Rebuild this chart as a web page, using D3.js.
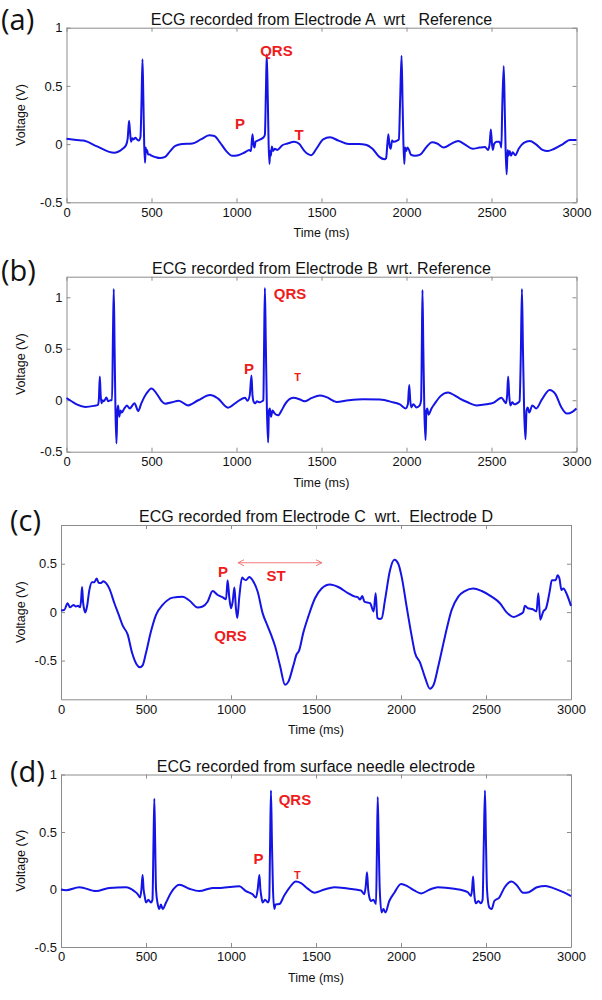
<!DOCTYPE html>
<html><head><meta charset="utf-8">
<script src="https://cdn.jsdelivr.net/npm/d3@7"></script>
<style>body{margin:0;background:#fff}svg{display:block}</style>
</head><body><svg id="chart" width="602" height="1000"></svg>
<script>
// ---- data (time in ms, voltage in V) ----
const timeA=[0,60,100,180,280,330,350,360,368,374,380,388,395,405,415,425,435,441,447,452,457,462,466,470,474,480,490,500,520,550,580,610,640,680,740,790,840,870,900,940,975,1010,1050,1075,1085,1094,1100,1106,1112,1125,1140,1160,1167,1173,1178,1184,1189,1194,1198,1202,1208,1215,1225,1240,1270,1300,1340,1370,1400,1440,1470,1510,1550,1600,1660,1720,1760,1800,1840,1870,1880,1893,1900,1907,1915,1925,1945,1955,1963,1971,1977,1982,1987,1992,1998,2005,2015,2025,2050,2080,2120,2150,2180,2220,2260,2305,2340,2390,2430,2462,2480,2489,2496,2503,2508,2515,2530,2545,2553,2558,2563,2572,2578,2583,2589,2595,2600,2607,2615,2625,2640,2660,2690,2725,2760,2800,2830,2870,2920,2960,3000];
const voltA=[0.045,0.035,0.03,-0.02,-0.075,-0.04,-0.01,0.05,0.2,0.1,0.02,0.05,0.04,0.055,0.04,0.03,0.06,0.35,0.73,0.4,0.0,-0.16,-0.03,-0.07,-0.05,-0.09,-0.09,-0.1,-0.11,-0.12,-0.11,-0.06,-0.015,0.0,0.005,0.04,0.075,0.07,0.02,-0.06,-0.1,-0.095,-0.07,-0.05,-0.06,0.085,0.0,-0.03,0.02,0.03,0.04,0.06,0.08,0.45,0.77,0.4,0.0,-0.17,-0.06,-0.1,-0.02,-0.06,-0.04,-0.05,-0.01,0.005,0.02,0.0,-0.06,-0.095,-0.04,0.04,0.058,0.03,0.0,0.0,-0.005,-0.04,-0.11,-0.13,-0.12,0.085,-0.01,-0.04,0.03,0.02,0.03,0.04,0.4,0.76,0.35,0.0,-0.17,-0.03,-0.06,-0.03,-0.05,-0.09,-0.1,-0.09,-0.02,0.015,0.005,-0.03,0.0,0.027,0.0,-0.04,-0.03,-0.025,-0.05,0.0,0.125,0.0,-0.05,0.0,0.02,0.02,0.0,-0.03,0.3,0.67,0.3,-0.05,-0.26,-0.05,-0.1,-0.06,-0.1,-0.07,-0.095,-0.04,0.01,0.026,0.0,-0.05,-0.06,-0.04,0.0,0.035,0.035];

const timeB=[0,30,60,110,160,185,190,196,201,206,212,220,235,245,260,268,273,278,283,288,294,299,304,310,318,325,340,355,372,400,422,440,470,500,530,560,580,620,660,715,775,845,890,950,1000,1050,1065,1078,1088,1094,1100,1110,1120,1135,1150,1158,1162,1167,1172,1179,1186,1191,1196,1203,1212,1225,1245,1265,1285,1333,1370,1400,1440,1490,1530,1588,1660,1745,1843,1920,1961,1995,2008,2016,2022,2028,2040,2059,2078,2086,2090,2094,2099,2105,2112,2117,2122,2130,2147,2166,2200,2245,2280,2314,2360,2412,2470,2510,2559,2575,2585,2592,2598,2604,2611,2622,2635,2650,2665,2672,2679,2685,2692,2700,2706,2713,2722,2740,2763,2796,2842,2876,2910,2944,2978,3000];
const voltB=[0.02,-0.01,-0.04,-0.065,-0.055,-0.045,0.0,0.23,0.05,-0.03,0.0,-0.01,0.026,-0.01,0.0,0.0,0.6,1.08,0.5,-0.1,-0.42,-0.1,-0.05,-0.16,-0.1,-0.12,-0.08,-0.05,-0.08,-0.03,-0.105,-0.03,0.065,0.115,0.065,-0.01,-0.033,-0.02,-0.005,-0.05,0.0,0.05,0.018,-0.072,-0.02,0.025,-0.005,0.05,0.24,0.05,-0.01,-0.03,-0.01,-0.02,-0.01,0.0,0.5,1.09,0.6,-0.1,-0.41,-0.1,-0.08,-0.16,-0.1,-0.13,-0.147,-0.1,-0.04,0.023,0.01,-0.01,0.02,0.046,0.03,-0.016,0.0,0.01,0.007,-0.02,-0.04,-0.08,-0.04,0.147,0.0,-0.07,-0.04,-0.07,-0.05,0.0,0.5,1.07,0.5,-0.1,-0.386,-0.1,-0.08,-0.14,-0.08,-0.033,0.04,0.075,0.05,0.016,-0.02,-0.05,-0.04,-0.026,0.025,-0.01,-0.03,0.05,0.23,0.05,-0.05,-0.02,-0.04,-0.03,-0.01,0.4,1.08,0.5,-0.1,-0.38,-0.1,-0.07,-0.12,-0.05,-0.08,0.006,0.1,0.06,-0.065,-0.13,-0.11,-0.08];

const timeC=[0,20,39,53,73,88,100,112,118,124,130,135,143,153,167,182,196,210,222,235,249,265,284,314,343,363,392,418,445,465,480,500,529,559,598,657,716,755,804,833,863,892,922,951,971,980,990,1000,1010,1020,1029,1037,1049,1065,1078,1088,1108,1127,1157,1186,1216,1235,1259,1288,1318,1337,1367,1386,1400,1425,1455,1494,1533,1582,1631,1690,1729,1745,1759,1773,1784,1818,1839,1851,1861,1876,1886,1906,1935,1961,1984,2004,2033,2063,2082,2112,2141,2170,2190,2220,2259,2298,2337,2376,2425,2475,2533,2582,2620,2662,2695,2718,2729,2747,2775,2797,2808,2819,2837,2853,2876,2887,2910,2921,2932,2944,2955,2977,3000];
const voltC=[0.017,0.024,0.092,0.05,0.075,0.058,0.065,0.05,0.12,0.26,0.1,0.04,-0.003,0.058,0.23,0.31,0.31,0.347,0.3,0.3,0.32,0.3,0.245,0.092,-0.044,-0.14,-0.23,-0.42,-0.54,-0.57,-0.55,-0.42,-0.2,-0.027,0.075,0.15,0.16,0.12,0.048,0.058,0.11,0.218,0.177,0.153,0.133,0.33,0.15,0.04,0.11,0.255,0.04,-0.06,0.16,0.357,0.337,0.33,0.364,0.33,0.21,-0.01,-0.146,-0.23,-0.35,-0.55,-0.75,-0.72,-0.55,-0.435,-0.4,-0.214,-0.044,0.143,0.245,0.286,0.26,0.194,0.16,0.155,0.13,0.167,0.109,0.092,0.007,0.194,-0.06,-0.07,-0.065,0.126,0.43,0.54,0.5,0.364,0.058,-0.248,-0.418,-0.52,-0.673,-0.79,-0.758,-0.554,-0.248,0.024,0.16,0.218,0.245,0.218,0.16,0.092,0.0,-0.05,-0.027,-0.003,0.065,0.04,0.03,0.007,0.194,-0.078,0.007,0.04,0.228,0.33,0.33,0.38,0.347,0.228,0.245,0.177,0.065];

const timeD=[0,29,108,206,284,382,431,451,465,473,480,486,492,500,514,529,538,544,549,554,559,569,578,588,598,618,647,696,755,814,892,941,1049,1088,1127,1147,1157,1167,1173,1178,1186,1200,1218,1225,1230,1235,1241,1247,1255,1262,1284,1314,1343,1382,1412,1451,1490,1549,1608,1686,1765,1784,1792,1800,1807,1814,1824,1838,1853,1858,1863,1869,1875,1886,1897,1908,1931,1961,2000,2039,2080,2118,2170,2216,2314,2392,2412,2418,2424,2429,2433,2441,2455,2470,2480,2487,2494,2500,2506,2519,2533,2549,2578,2610,2650,2680,2718,2752,2800,2850,2900,2955,3000];
const voltD=[0.0,-0.006,0.02,-0.014,0.014,0.02,-0.014,-0.04,-0.07,0.0,0.127,0.0,-0.056,-0.113,-0.09,-0.113,-0.09,0.4,0.79,0.4,0.0,-0.127,-0.17,-0.13,-0.17,-0.113,-0.028,0.042,0.006,-0.014,0.014,0.014,0.028,-0.014,-0.042,-0.07,0.0,0.127,0.0,-0.056,-0.113,-0.09,-0.113,-0.08,0.4,0.86,0.4,0.0,-0.17,-0.13,-0.127,-0.05,0.014,0.07,0.056,0.008,-0.028,0.0,0.02,0.008,-0.008,-0.042,0.02,0.15,0.0,-0.07,-0.1,-0.09,-0.127,0.3,0.805,0.4,0.0,-0.2,-0.17,-0.2,-0.1,-0.028,0.048,0.028,-0.01,-0.034,0.0,0.02,0.006,-0.022,-0.056,0.0,0.113,0.0,-0.07,-0.12,-0.1,-0.12,-0.09,0.4,0.86,0.4,0.0,-0.155,-0.17,-0.1,-0.07,0.02,0.07,0.04,-0.028,-0.023,0.02,0.03,0.01,-0.023,-0.057];

// ---- ticks, domains, labels ----
const xTicks=[0,500,1000,1500,2000,2500,3000];
const yTicksA=[-0.5,0,0.5,1];
const yTicksB=[-0.5,0,0.5,1];
const yTicksC=[-0.5,0,0.5];
const yTicksD=[-0.5,0,0.5,1];
const yDomainA=[-0.5,1];
const yDomainB=[-0.5,1.2];
const yDomainC=[-0.9,0.9];
const yDomainD=[-0.5,1];
const panelLetters=["(a)","(b)","(c)","(d)"];
const titles=["ECG recorded from Electrode A  wrt   Reference",
  "ECG recorded from Electrode B  wrt. Reference",
  "ECG recorded from Electrode C  wrt.  Electrode D",
  "ECG recorded from surface needle electrode"];
const xLabel="Time (ms)";
const yLabel="Voltage (V)";
// annotation texts and their data anchors
const annotA=[["QRS",1235,0.80,15],["P",1020,0.173,15],["T",1368,0.08,15]];
const annotB=[["QRS",1315,1.04,15],["P",1074,0.31,15],["T",1359,0.226,11]];
const annotC=[["P",953,0.415,15],["ST",1265,0.38,15],["QRS",997,-0.24,15]];
const annotD=[["QRS",1376,0.78,15],["P",1162,0.266,15],["T",1391,0.13,11]];
const arrowC=[1041,1535,0.51]; // ST interval arrow: start, end, level

// ---- layout ----
const panels=[
 {t:timeA,v:voltA,yt:yTicksA,yd:yDomainA,an:annotA,L:66.5,R:576.5,T:27.7,B:202.3},
 {t:timeB,v:voltB,yt:yTicksB,yd:yDomainB,an:annotB,L:66.5,R:576.5,T:276.7,B:451.7},
 {t:timeC,v:voltC,yt:yTicksC,yd:yDomainC,an:annotC,L:61,R:571,T:525,B:699.3},
 {t:timeD,v:voltD,yt:yTicksD,yd:yDomainD,an:annotD,L:61,R:571,T:774.5,B:947}
];
const letterY=[20,271,521,772];
const letterX=[1,1,10,10];
const FONT='"Liberation Sans", Arial, Helvetica, sans-serif';
const BOX='#8c8c8c';
const svg=d3.select("#chart");

panels.forEach((p,i)=>{
  const x=d3.scaleLinear().domain([0,3000]).range([p.L,p.R]);
  const y=d3.scaleLinear().domain(p.yd).range([p.B,p.T]);
  const g=svg.append("g");
  const styleAxis=sel=>{
    sel.selectAll(".domain").attr("stroke",BOX).attr("stroke-width",1);
    sel.selectAll(".tick line").attr("stroke",BOX);
    sel.selectAll("text").attr("fill","#111").style("font-family",FONT).style("font-size","13px");
  };
  g.append("g").attr("transform",`translate(0,${p.B})`)
    .call(d3.axisBottom(x).tickValues(xTicks).tickSizeInner(-4).tickSizeOuter(0).tickPadding(5).tickFormat(d=>String(d)))
    .call(styleAxis);
  g.append("g").attr("transform",`translate(0,${p.T})`)
    .call(d3.axisTop(x).tickValues(xTicks).tickSizeInner(-4).tickSizeOuter(0).tickFormat(""))
    .call(styleAxis);
  g.append("g").attr("transform",`translate(${p.L},0)`)
    .call(d3.axisLeft(y).tickValues(p.yt).tickSizeInner(-4).tickSizeOuter(0).tickPadding(4).tickFormat(d=>String(d)))
    .call(styleAxis);
  g.append("g").attr("transform",`translate(${p.R},0)`)
    .call(d3.axisRight(y).tickValues(p.yt).tickSizeInner(-4).tickSizeOuter(0).tickFormat(""))
    .call(styleAxis);
  g.selectAll(".domain").attr("fill","none");

  // signal
  const line=d3.line().x(k=>x(p.t[k])).y(k=>y(p.v[k])).curve(d3.curveMonotoneX);
  g.append("path").attr("d",line(d3.range(p.t.length)))
    .attr("fill","none").attr("stroke","#1414e6").attr("stroke-width",2)
    .attr("stroke-linejoin","round");

  // title, axis labels
  g.append("text").attr("x",(p.L+p.R)/2).attr("y",p.T-3).attr("text-anchor","middle")
    .style("white-space","pre").style("font-family",FONT).style("font-size","16px").attr("fill","#111")
    .text(titles[i]);
  g.append("text").attr("x",(p.L+p.R)/2).attr("y",p.B+35).attr("text-anchor","middle")
    .style("font-family",FONT).style("font-size","12.5px").attr("fill","#111").text(xLabel);
  g.append("text").attr("transform",`translate(25,${(p.T+p.B)/2}) rotate(-90)`).attr("text-anchor","middle")
    .style("font-family",FONT).style("font-size","12.5px").attr("fill","#111").text(yLabel);
  svg.append("text").attr("x",letterX[i]).attr("y",letterY[i]).attr("dy","0.35em")
    .style("font-family",'"Open Sans", "Noto Sans", sans-serif').style("font-size","29px").attr("fill","#111")
    .text(panelLetters[i]);

  // annotations
  p.an.forEach(a=>{
    g.append("text").attr("x",x(a[1])).attr("y",y(a[2])).attr("dy","0.36em").attr("text-anchor","middle")
      .style("font-family",FONT).style("font-weight","bold").style("font-size",a[3]+"px").attr("fill","#ee1c1c")
      .text(a[0]);
  });
  if(i===2){
    const x1=x(arrowC[0]),x2=x(arrowC[1]),ya=y(arrowC[2]);
    g.append("path").attr("d",`M${x1},${ya}H${x2}M${x1+6},${ya-3}L${x1},${ya}L${x1+6},${ya+3}M${x2-6},${ya-3}L${x2},${ya}L${x2-6},${ya+3}`)
      .attr("fill","none").attr("stroke","#f07a7a").attr("stroke-width",1);
  }
});
</script></body></html>
